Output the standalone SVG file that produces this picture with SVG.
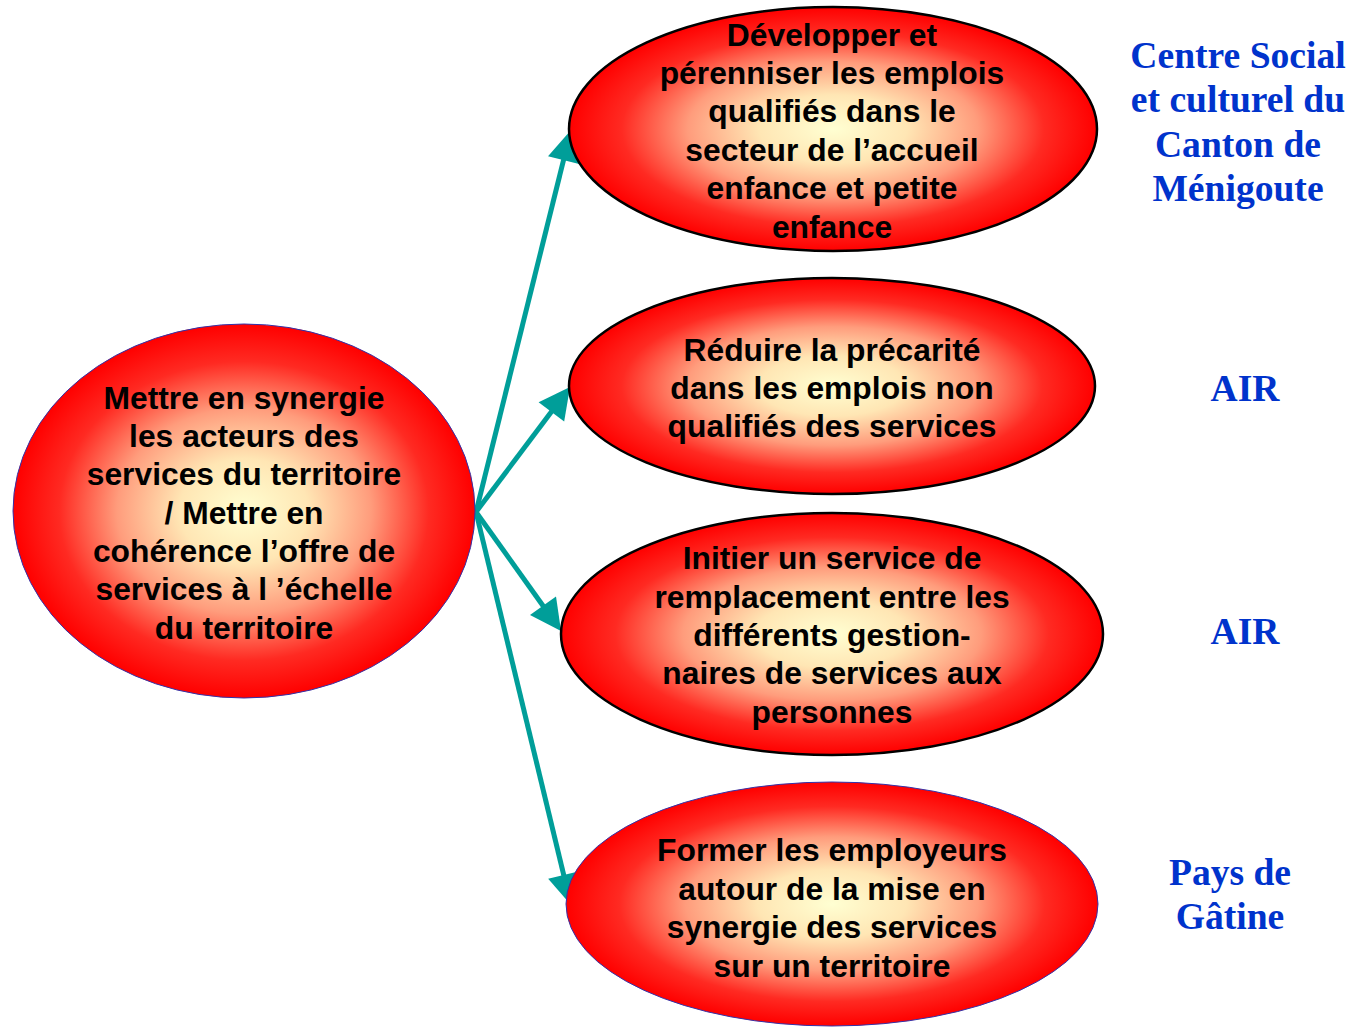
<svg xmlns="http://www.w3.org/2000/svg" width="1363" height="1028" viewBox="0 0 1363 1028">
<style>
.t{font-family:"Liberation Sans",Arial,sans-serif;font-weight:bold;font-size:31.8px;fill:#000;text-anchor:middle}
.b{font-family:"Liberation Serif","Times New Roman",serif;font-weight:bold;font-size:37.6px;fill:#0033CC;text-anchor:middle}
.k{stroke:#000;stroke-width:2.5}
.u{stroke:#3333AA;stroke-width:1}
.c{stroke:#009E99;stroke-width:5;fill:none}
</style>
<defs>
<radialGradient id="g" cx="0.5" cy="0.5" r="0.5">
<stop offset="0" stop-color="#FFFFD2"/>
<stop offset="0.28" stop-color="#FFE6B4"/>
<stop offset="0.55" stop-color="#FF9C7C"/>
<stop offset="0.8" stop-color="#FF2A22"/>
<stop offset="1" stop-color="#FF0000"/>
</radialGradient>
<marker id="a" markerUnits="userSpaceOnUse" markerWidth="40" markerHeight="40" orient="auto" overflow="visible">
<path d="M-11,-16 L20,0 L-11,16 z" fill="#009E99"/>
</marker>
</defs>
<rect width="1363" height="1028" fill="#fff"/>
<g id="connectors">
<line class="c" x1="476" y1="512" x2="566.2" y2="149.4" marker-end="url(#a)"/>
<line class="c" x1="476" y1="512" x2="558" y2="403" marker-end="url(#a)"/>
<line class="c" x1="476" y1="512" x2="549.4" y2="614.7" marker-end="url(#a)"/>
<line class="c" x1="476" y1="512" x2="566.3" y2="885.6" marker-end="url(#a)"/>
</g>
<g id="n0">
<ellipse class="u" cx="244" cy="511" rx="231" ry="187" fill="url(#g)"/>
<text class="t" x="244" y="409">Mettre en synergie</text>
<text class="t" x="244" y="447">les acteurs des</text>
<text class="t" x="244" y="485">services du territoire</text>
<text class="t" x="244" y="524">/ Mettre en</text>
<text class="t" x="244" y="562">cohérence l’offre de</text>
<text class="t" x="244" y="600">services à l ’échelle</text>
<text class="t" x="244" y="639">du territoire</text>
</g>
<g id="n1">
<ellipse class="k" cx="833" cy="129" rx="264" ry="122" fill="url(#g)"/>
<text class="t" x="832" y="46">Développer et</text>
<text class="t" x="832" y="84">pérenniser les emplois</text>
<text class="t" x="832" y="122">qualifiés dans le</text>
<text class="t" x="832" y="161">secteur de l’accueil</text>
<text class="t" x="832" y="199">enfance et petite</text>
<text class="t" x="832" y="238">enfance</text>
</g>
<g id="n2">
<ellipse class="k" cx="832" cy="386" rx="263" ry="108" fill="url(#g)"/>
<text class="t" x="832" y="361">Réduire la précarité</text>
<text class="t" x="832" y="399">dans les emplois non</text>
<text class="t" x="832" y="437">qualifiés des services</text>
</g>
<g id="n3">
<ellipse class="k" cx="832" cy="634" rx="271" ry="121" fill="url(#g)"/>
<text class="t" x="832" y="569">Initier un service de</text>
<text class="t" x="832" y="608">remplacement entre les</text>
<text class="t" x="832" y="646">différents gestion-</text>
<text class="t" x="832" y="684">naires de services aux</text>
<text class="t" x="832" y="723">personnes</text>
</g>
<g id="n4">
<ellipse class="u" cx="832" cy="904" rx="266" ry="122" fill="url(#g)"/>
<text class="t" x="832" y="861">Former les employeurs</text>
<text class="t" x="832" y="900">autour de la mise en</text>
<text class="t" x="832" y="938">synergie des services</text>
<text class="t" x="832" y="977">sur un territoire</text>
</g>
<g id="labels">
<text class="b" x="1238" y="68">Centre Social</text>
<text class="b" x="1238" y="112">et culturel du</text>
<text class="b" x="1238" y="157">Canton de</text>
<text class="b" x="1238" y="201">Ménigoute</text>
<text class="b" x="1245" y="401">AIR</text>
<text class="b" x="1245" y="644">AIR</text>
<text class="b" x="1230" y="885">Pays de</text>
<text class="b" x="1230" y="929">Gâtine</text>
</g>
</svg>
